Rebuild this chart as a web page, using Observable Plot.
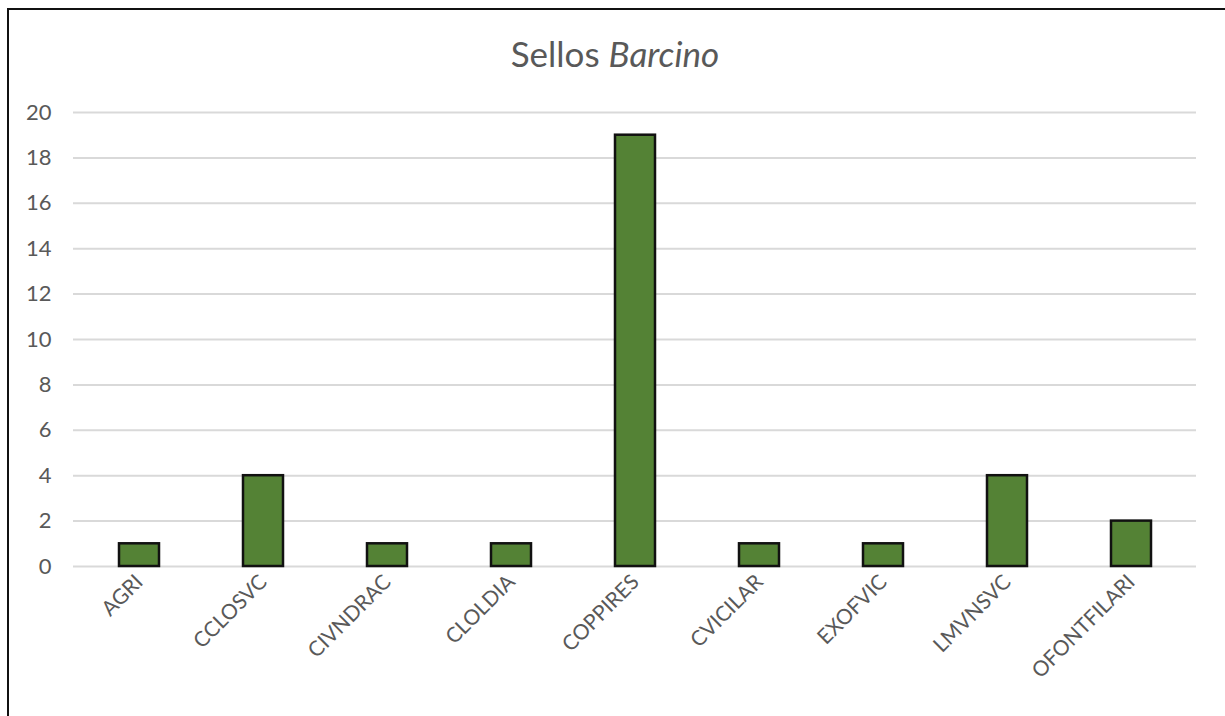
<!DOCTYPE html>
<html>
<head>
<meta charset="utf-8">
<script src="https://cdn.jsdelivr.net/npm/d3@7"></script>
<script src="https://cdn.jsdelivr.net/npm/@observablehq/plot@0.6"></script>
<style>
  html, body { margin: 0; padding: 0; background: #fff; }
  body { width: 1225px; height: 716px; position: relative; overflow: hidden; font-family: Lato, "Open Sans", sans-serif; }
  #frame { position: absolute; left: 7px; top: 8px; width: 1230px; height: 720px; border-left: 2.5px solid #111; border-top: 2.5px solid #111; box-sizing: border-box; pointer-events: none; z-index: 2; }
  #title { position: absolute; left: 0; width: 1230px; top: 36px; text-align: center; font-size: 35px; color: #595959; z-index: 3; line-height: 1; }
  #title i { font-style: italic; }
  #chart { position: absolute; left: 0; top: 0; }
</style>
</head>
<body>
<div id="frame"></div>
<div id="title">Sellos <i>Barcino</i></div>
<div id="chart"></div>
<script>
const categories = ["AGRI", "CCLOSVC", "CIVNDRAC", "CLOLDIA", "COPPIRES", "CVICILAR", "EXOFVIC", "LMVNSVC", "OFONTFILARI"];
const counts = [1, 4, 1, 1, 19, 1, 1, 4, 2];
const yTicks = [0, 2, 4, 6, 8, 10, 12, 14, 16, 18, 20];

const data = categories.map((c, i) => ({cat: c, n: counts[i]}));

const chart = Plot.plot({
  width: 1225,
  height: 716,
  marginLeft: 73,
  marginRight: 29,
  marginTop: 112,
  marginBottom: 150,
  style: {fontFamily: "Lato, 'Open Sans', sans-serif", fontSize: "20px", color: "#595959", background: "transparent"},
  x: {domain: categories, paddingInner: 0.68, paddingOuter: 0.34, label: null},
  y: {domain: [0, 20], label: null},
  marks: [
    Plot.ruleY(yTicks, {stroke: "#d9d9d9", strokeWidth: 2}),
    Plot.barY(data, {x: "cat", y: "n", fill: "#548235", stroke: "#111", strokeWidth: 2.5}),
    Plot.axisY(yTicks, {tickSize: 0, tickPadding: 22, fontSize: 22, fill: "#595959", label: null}),
    Plot.axisX({tickSize: 0, tickPadding: 12, tickRotate: -45, fontSize: 21, fill: "#595959", label: null})
  ]
});
document.getElementById("chart").appendChild(chart);
</script>
</body>
</html>
